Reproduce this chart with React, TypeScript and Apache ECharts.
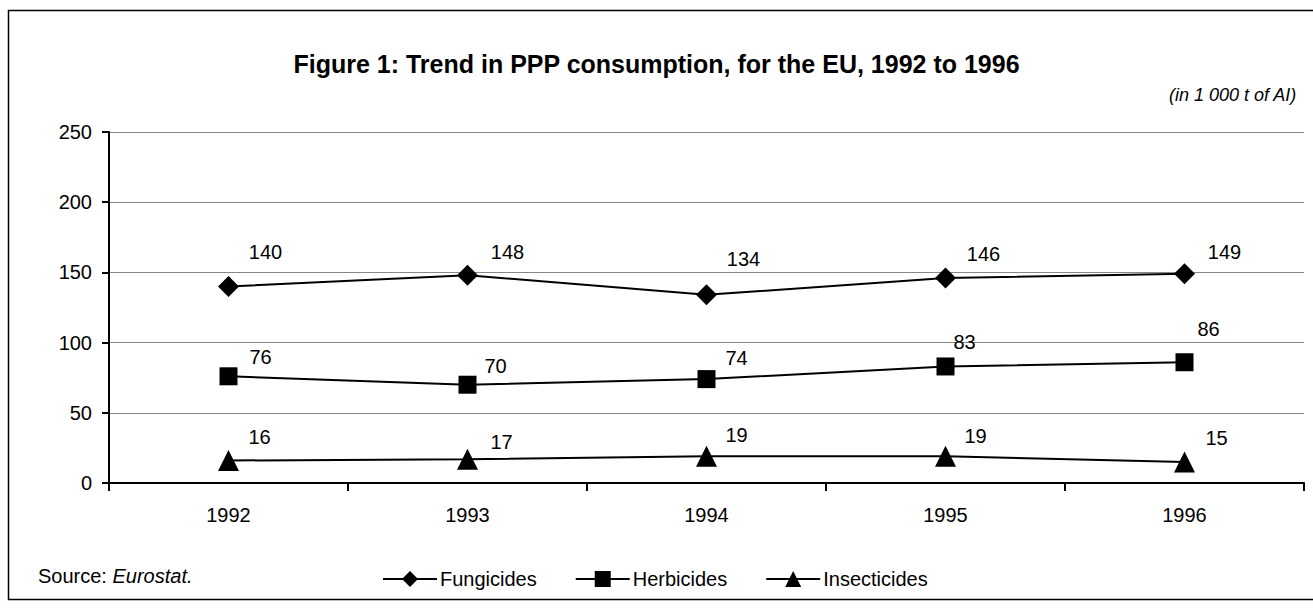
import React, { useEffect, useRef } from "react";
import * as echarts from "echarts";

const years = ["1992", "1993", "1994", "1995", "1996"];
const fungicides = [140, 148, 134, 146, 149];
const herbicides = [76, 70, 74, 83, 86];
const insecticides = [16, 17, 19, 19, 15];
const yTicks = { min: 0, max: 250, interval: 50 };

// label offsets (dx, dy) from each marker, as placed in the reference
const fungOffsets = [[37, -34], [40, -23], [37, -36], [38, -24], [40, -22]];
const herbOffsets = [[32, -19], [28, -19], [30, -21], [19, -24], [24, -33]];
const insOffsets = [[31, -24], [34, -17], [30, -21], [30, -20], [32, -24]];

const FONT = "'Liberation Sans', Arial, sans-serif";

function mkSeries(name: string, values: number[], symbol: string, size: number, offs: number[][]) {
  return {
    name,
    type: "line",
    symbol,
    symbolSize: size,
    itemStyle: { color: "#000" },
    lineStyle: { color: "#000", width: 2 },
    data: values.map((v, i) => ({
      value: v,
      label: {
        show: true,
        position: "inside",
        offset: offs[i],
        color: "#000",
        fontSize: 20,
        fontFamily: FONT,
        formatter: "{c}",
      },
    })),
  };
}

export default function App() {
  const ref = useRef<HTMLDivElement>(null);
  useEffect(() => {
    const chart = echarts.init(ref.current!, null, { renderer: "svg" });
    chart.setOption({
      animation: false,
      backgroundColor: "#fff",
      textStyle: { fontFamily: FONT, color: "#000" },
      title: {
        text: "Figure 1: Trend in PPP consumption, for the EU, 1992 to 1996",
        left: "center",
        top: 46,
        textStyle: { fontFamily: FONT, fontSize: 25, fontWeight: "bold", color: "#000" },
      },
      grid: { left: 109, right: 9, top: 132, bottom: 125, containLabel: false },
      xAxis: {
        type: "category",
        data: years,
        boundaryGap: true,
        axisLine: { lineStyle: { color: "#000", width: 2 } },
        axisTick: { show: true, length: 8, lineStyle: { color: "#000", width: 2 } },
        axisLabel: { color: "#000", fontSize: 20, fontFamily: FONT, margin: 22 },
        splitLine: { show: false },
      },
      yAxis: {
        type: "value",
        min: yTicks.min,
        max: yTicks.max,
        interval: yTicks.interval,
        axisLine: { show: true, lineStyle: { color: "#000", width: 2 } },
        axisTick: { show: true, length: 7, lineStyle: { color: "#000", width: 2 } },
        axisLabel: { color: "#000", fontSize: 20, fontFamily: FONT, margin: 17 },
        splitLine: { show: true, lineStyle: { color: "#888", width: 1 } },
      },
      legend: {
        left: 377,
        top: 564,
        itemWidth: 54,
        itemHeight: 20,
        itemGap: 38,
        textStyle: { fontSize: 20, fontFamily: FONT, color: "#000", padding: [0, 0, 0, -2] },
        data: ["Fungicides", "Herbicides", "Insecticides"],
      },
      graphic: [
        {
          type: "rect",
          shape: { x: 8.5, y: 10.5, width: 1320, height: 589 },
          style: { fill: "none", stroke: "#000", lineWidth: 1.5 },
          silent: true,
        },
        {
          type: "text",
          right: 16,
          top: 86,
          style: {
            text: "(in 1 000 t of AI)",
            font: "italic 18px " + FONT,
            fill: "#000",
          },
        },
        {
          type: "text",
          left: 38,
          top: 566,
          style: {
            text: "{a|Source: }{b|Eurostat.}",
            fill: "#000",
            rich: {
              a: { fontSize: 20, fontFamily: FONT, fill: "#000" },
              b: { fontSize: 20, fontFamily: FONT, fontStyle: "italic", fill: "#000" },
            },
          },
        },
      ],
      series: [
        mkSeries("Fungicides", fungicides, "diamond", 21, fungOffsets),
        mkSeries("Herbicides", herbicides, "rect", 18, herbOffsets),
        mkSeries("Insecticides", insecticides, "triangle", 21, insOffsets),
      ],
    });
    return () => chart.dispose();
  }, []);
  return (
    <div
      ref={ref}
      style={{ position: "absolute", left: 0, top: 0, width: 1313, height: 608 }}
    />
  );
}
